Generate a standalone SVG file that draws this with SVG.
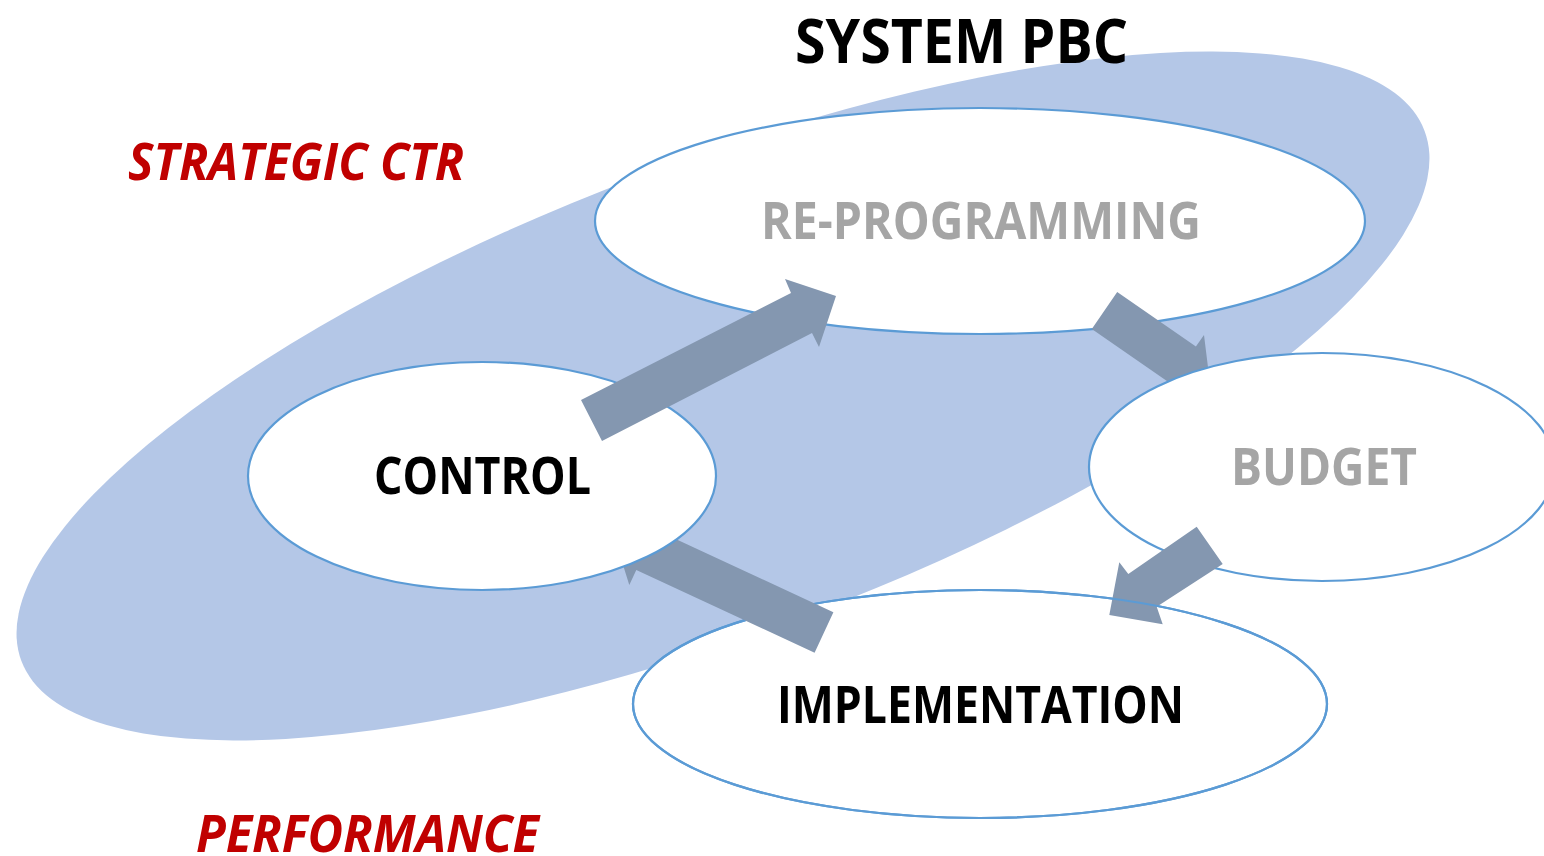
<svg xmlns="http://www.w3.org/2000/svg" width="1544" height="856" viewBox="0 0 1544 856">
<style>
.node{fill:#ffffff;stroke:#5b9bd5;stroke-width:2.2}
.ring{fill:none;stroke:#5b9bd5;stroke-width:2.2}
.arrow{fill:#8497b0;stroke:none}
.lbl{font-family:"Open Sans","Liberation Sans",sans-serif;font-weight:bold;font-size:52px}
.dark{fill:#000000}
.gray{fill:#a5a5a5}
.red{fill:#c00000;font-style:italic}
</style>
<rect width="1544" height="856" fill="#ffffff"/>
<g id="system-pbc-area">
<ellipse cx="723" cy="396" rx="750" ry="235" transform="rotate(-20.7 723 396)" fill="#b4c7e7"/>
</g>
<g id="re-programming">
<ellipse class="node" cx="980" cy="221" rx="385" ry="113"/>
<text class="lbl gray" x="761" y="239" textLength="440" lengthAdjust="spacingAndGlyphs">RE-PROGRAMMING</text>
</g>
<g id="connectors">
<polygon id="arrow-reprog-budget" class="arrow" points="1117.2,292.1 1195.9,346.6 1204,335 1210,383.6 1162.4,395 1170.5,383.4 1091.8,328.9"/>
</g>
<g id="budget">
<ellipse class="node" cx="1322" cy="467" rx="233" ry="114"/>
<text class="lbl gray" x="1231" y="485" textLength="186" lengthAdjust="spacingAndGlyphs">BUDGET</text>
</g>
<g id="implementation">
<ellipse class="node" cx="980" cy="704" rx="347" ry="114"/>
<text class="lbl dark" x="777" y="723" textLength="407" lengthAdjust="spacingAndGlyphs">IMPLEMENTATION</text>
</g>
<g id="connectors-2">
<polygon id="arrow-budget-impl" class="arrow" points="1196.7,526.7 1128.3,574 1119.3,562.3 1109.3,615 1162.7,624.3 1156.7,606.7 1222.7,564"/>
<ellipse class="ring" cx="980" cy="704" rx="347" ry="114"/>
<polygon id="arrow-impl-control" class="arrow" points="833.4,612.2 655.1,529.4 662.1,514.4 613.6,534.8 629.3,585 636.3,570 814.6,652.8"/>
</g>
<g id="control">
<ellipse class="node" cx="482" cy="476" rx="234" ry="114"/>
<text class="lbl dark" x="374" y="494" textLength="217" lengthAdjust="spacingAndGlyphs">CONTROL</text>
</g>
<g id="connectors-3">
<polygon id="arrow-control-reprog" class="arrow" points="581,400 791,293 785,279 836,296 819,347 812,333 602,441"/>
</g>
<g id="labels">
<text class="lbl dark" x="795" y="63" font-size="60" style="font-size:60px" textLength="333" lengthAdjust="spacingAndGlyphs">SYSTEM PBC</text>
<text class="lbl red" x="128" y="180" textLength="336" lengthAdjust="spacingAndGlyphs">STRATEGIC CTR</text>
<text class="lbl red" x="196" y="852" textLength="343" lengthAdjust="spacingAndGlyphs">PERFORMANCE</text>
</g>
</svg>
